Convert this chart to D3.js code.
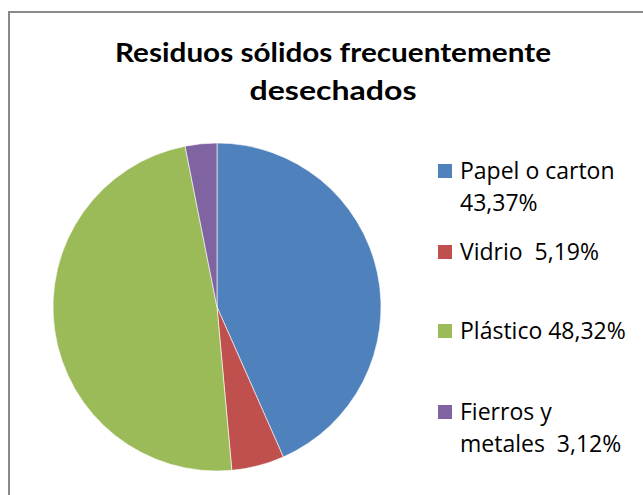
<!DOCTYPE html>
<html>
<head>
<meta charset="utf-8">
<script src="https://cdn.jsdelivr.net/npm/d3@7"></script>
<style>
	body { margin: 0; background: #fff; }
	svg { display: block; }
</style>
</head>
<body>
<div class="pie-chart"></div>
<script>

var categories = ["Papel o carton", "Vidrio", "Plástico", "Fierros y metales"];
var values = [43.37, 5.19, 48.32, 3.12];
var legendLines = [
	["Papel o carton", "43,37%"],
	["Vidrio  5,19%"],
	["Plástico 48,32%"],
	["Fierros y", "metales  3,12%"]
];
var titleLines = ["Residuos sólidos frecuentemente", "desechados"];
var colors = ["#4F81BD", "#C0504D", "#9BBB59", "#8064A2"];

var W = 643, H = 495;

var svg = d3.select(".pie-chart").append("svg")
	.attr("width", W)
	.attr("height", H);

// chart area frame (right and bottom edges fall outside the picture)
svg.append("rect")
	.attr("x", 9)
	.attr("y", 12)
	.attr("width", W + 20)
	.attr("height", H + 20)
	.attr("fill", "#fff")
	.attr("stroke", "#8a8a8a")
	.attr("stroke-width", 2);

// title - widths stretched a bit to match the original Calibri
var titleWidths = [436, 167];
svg.append("g").selectAll("text")
	.data(titleLines)
	.enter().append("text")
	.attr("x", 333)
	.attr("y", function (d, i) { return 62 + i * 38; })
	.attr("text-anchor", "middle")
	.attr("font-family", "Lato, 'Open Sans', sans-serif")
	.attr("font-weight", "bold")
	.attr("font-size", 26)
	.attr("textLength", function (d, i) { return titleWidths[i]; })
	.attr("lengthAdjust", "spacingAndGlyphs")
	.attr("fill", "#000")
	.text(function (d) { return d; });

// pie
var pie = d3.pie().sort(null).value(function (d) { return d; });
var arc = d3.arc().innerRadius(0).outerRadius(164);

var g = svg.append("g")
	.attr("transform", "translate(217,307)");

g.selectAll("path")
	.data(pie(values))
	.enter().append("path")
	.attr("d", arc)
	.attr("fill", function (d, i) { return colors[i]; })
	.attr("stroke", "#fff")
	.attr("stroke-width", 0.6);

// legend
var legendY = [179, 260, 339, 420];
var legend = svg.append("g").selectAll("g")
	.data(categories)
	.enter().append("g")
	.attr("transform", function (d, i) { return "translate(438," + legendY[i] + ")"; });

legend.append("rect")
	.attr("x", 0)
	.attr("y", -15)
	.attr("width", 14)
	.attr("height", 14)
	.attr("fill", function (d, i) { return colors[i]; });

legend.each(function (d, i) {
	d3.select(this).selectAll("text")
		.data(legendLines[i])
		.enter().append("text")
		.attr("x", 22)
		.attr("y", function (t, j) { return j * 32; })
		.attr("font-family", "'Open Sans', sans-serif")
		.attr("font-size", 23)
		.attr("fill", "#000")
		.style("white-space", "pre")
		.text(function (t) { return t; });
});
</script>
</body>
</html>
